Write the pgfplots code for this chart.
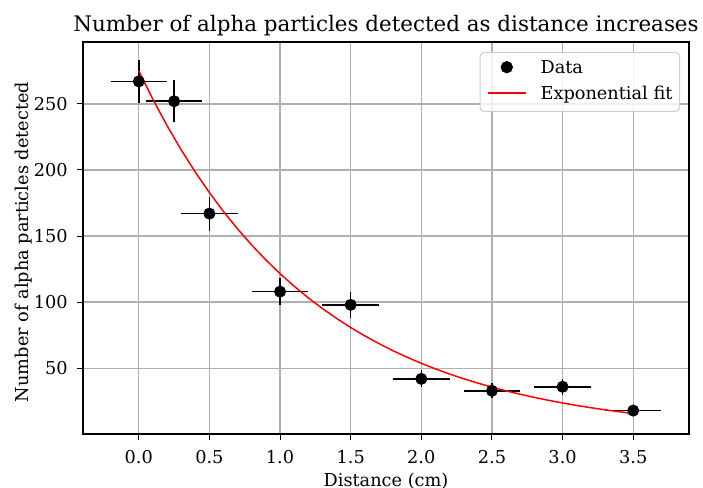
\documentclass[border=0pt]{standalone}
\usepackage{fontspec}
\setmainfont{DejaVu Serif}
\usepackage{pgfplots}
\pgfplotsset{compat=1.18}
\usepackage{pgfplotstable}

\definecolor{gridgray}{HTML}{B0B0B0}
\definecolor{legendedge}{HTML}{CCCCCC}

\pgfplotsset{
    dotlegend/.style={legend image code/.code={%
        \path[draw=none, fill=none] (0bp,1bp) -- (19bp,1bp);
        \path[##1, fill opacity=1, draw opacity=1] plot coordinates {(9.5bp,1bp)};}},
    fitlegend/.style={legend image code/.code={%
        \draw[##1, draw opacity=1] (0bp,1bp) -- (19bp,1bp);}},
}

% measured counts, errors: x +-0.2 cm, y +-sqrt(N)
\pgfplotstableread{
x    y   xerr yerr
0.00 267 0.2  16.3
0.25 252 0.2  15.9
0.50 167 0.2  12.9
1.00 108 0.2  10.4
1.50  98 0.2   9.9
2.00  42 0.2   6.5
2.50  33 0.2   5.7
3.00  36 0.2   6.0
3.50  18 0.2   4.2
}\counts

% fitted curve
\pgfplotstableread{
x   y
0.0 275.00
0.1 253.45
0.2 233.59
0.3 215.29
0.4 198.42
0.5 182.87
0.6 168.54
0.7 155.33
0.8 143.16
0.9 131.94
1.0 121.60
1.1 112.07
1.2 103.29
1.3  95.20
1.4  87.74
1.5  80.86
1.6  74.53
1.7  68.69
1.8  63.30
1.9  58.34
2.0  53.77
2.1  49.56
2.2  45.67
2.3  42.09
2.4  38.80
2.5  35.76
2.6  32.95
2.7  30.37
2.8  27.99
2.9  25.80
3.0  23.78
3.1  21.91
3.2  20.20
3.3  18.61
3.4  17.15
3.5  15.81
}\fit

\newcommand{\ticksize}{\fontsize{8.9}{10.7}\selectfont}

\begin{document}
\begin{tikzpicture}
\begin{axis}[
    at={(0,0)}, anchor=south west,
    scale only axis,
    width=303bp, height=196bp,
    xmin=-0.395, xmax=3.895,
    ymin=0.3, ymax=296.8,
    xtick={0,0.5,1,1.5,2,2.5,3,3.5},
    ytick={50,100,150,200,250},
    /pgf/number format/assume math mode=true,
    tick label style={font=\ticksize, inner sep=0pt},
    xticklabel style={anchor=north, yshift=-5bp,
        /pgf/number format/fixed,
        /pgf/number format/fixed zerofill,
        /pgf/number format/precision=1},
    yticklabel style={anchor=east, xshift=-4.5bp},
    tick align=outside,
    major tick length=3bp,
    tick style={black, line width=0.5bp},
    xtick pos=bottom, ytick pos=left,
    axis line style={line width=0.6bp},
    grid=major,
    major grid style={gridgray, line width=0.7bp},
    title={Number of alpha particles detected as distance increases},
    every axis title/.style={at={(axis description cs:0.5,1)}, anchor=base,
        yshift=5.3bp, inner sep=0pt, font=\fontsize{10.75}{13}\selectfont},
    xlabel={Distance (cm)},
    every axis x label/.style={at={(axis description cs:0.5,0)}, anchor=north,
        yshift=-19.3bp, inner sep=0pt, font=\ticksize},
    ylabel={Number of alpha particles detected},
    every axis y label/.style={at={(axis description cs:-0.0825,0.49)},
        rotate=90, anchor=south, inner sep=0pt, font=\ticksize},
    legend style={at={(rel axis cs:1,1)}, anchor=north east,
        xshift=-4.5bp, yshift=-5bp,
        draw=legendedge, line width=0.5bp, rounded corners=2bp,
        fill=white, fill opacity=0.8, text opacity=1,
        inner xsep=3.5bp, inner ysep=3.9bp,
        font=\ticksize,
        cells={anchor=west},
        nodes={inner sep=0pt, text height=6.8bp, text depth=2.1bp},
        column sep=7bp, row sep=3.9bp},
]
\addplot[
    only marks, mark=*, mark size=2.8bp, black, dotlegend,
    error bars/.cd,
        x dir=both, x explicit,
        y dir=both, y explicit,
        error mark=none,
        error bar style={line width=0.8bp, black},
] table[x=x, y=y, x error=xerr, y error=yerr] {\counts};
\addlegendentry{Data}
\addplot[red, line width=0.75bp, no marks, fitlegend]
    table[x=x, y=y] {\fit};
\addlegendentry{Exponential fit}
\end{axis}
\pgfresetboundingbox
\useasboundingbox (-41.5bp,-27bp) rectangle (310bp,217bp);
\end{tikzpicture}
\end{document}
